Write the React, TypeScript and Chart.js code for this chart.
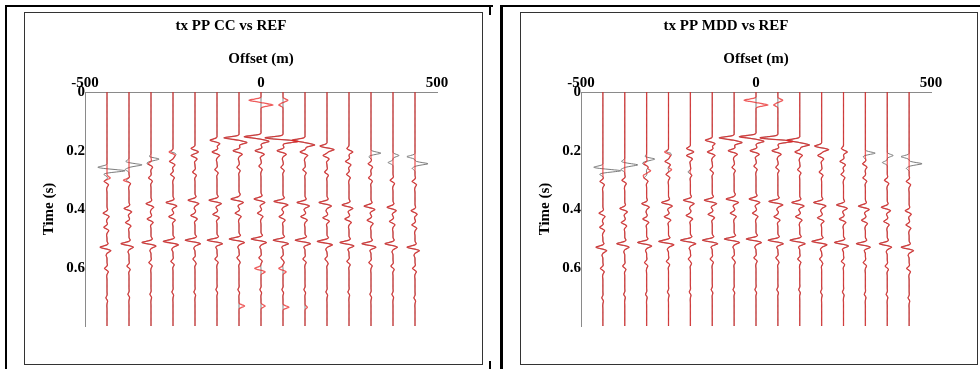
import React, { useEffect, useRef } from "react";
import { Chart, registerables } from "chart.js";
Chart.register(...registerables);

// trace offsets (m)
const OFFSETS = [-437.5, -375, -312.5, -250, -187.5, -125, -62.5, 0, 62.5, 125, 187.5, 250, 312.5, 375, 437.5];
const X_TICKS = [-500, 0, 500];
const Y_TICKS = [0, 0.2, 0.4, 0.6];
const TIME_MAX = 0.796;
const DT = 0.004;

// direct arrival: time of the left swing (s), left swing (m), right swing (m)
const DIRECT_T = [0, 0, 0, 0.203, 0.19, 0.163, 0.157, 0.152, 0.155, 0.165, 0.183, 0.19, 0, 0, 0];
const DIRECT_L = [0, 0, 0, 11, 11, 20, 43, 48, 51, 37, 20, 6, 0, 0, 0];
const DIRECT_R = [0, 0, 0, 6, 8, 8, 23, 23, 43, 28, 20, 11, 0, 0, 0];
// secondary early event
const D2_T = [0, 0, 0.245, 0.235, 0.215, 0.205, 0.2, 0.198, 0.2, 0.205, 0.215, 0.235, 0.245, 0, 0];
const D2_A = [0, 0, 8, 10, 11, 14, 17, 17, 17, 14, 11, 10, 8, 0, 0];
// weak event ~0.25-0.3 s
const MID_T = [0.305, 0.3, 0.29, 0.28, 0.27, 0.262, 0.255, 0.252, 0.255, 0.262, 0.27, 0.28, 0.29, 0.3, 0.305];
const MID_A = [8, 8, 7, 7, 7, 6, 6, 6, 6, 6, 7, 7, 7, 8, 8];
// first reflection
const R1_T = [0.412, 0.394, 0.381, 0.374, 0.369, 0.366, 0.362, 0.363, 0.372, 0.374, 0.377, 0.382, 0.386, 0.39, 0.402];
const R1_A = [11, 14, 14, 20, 20, 23, 23, 20, 26, 23, 23, 20, 20, 17, 11];
// its follow-up wiggle
const R1B_T = [0.46, 0.443, 0.43, 0.423, 0.418, 0.415, 0.412, 0.413, 0.422, 0.424, 0.427, 0.432, 0.436, 0.44, 0.452];
const R1B_A = [9, 10, 11, 12, 12, 12, 11, 10, 11, 12, 12, 12, 11, 10, 9];
// second reflection
const R2_T = [0.528, 0.517, 0.513, 0.508, 0.504, 0.502, 0.501, 0.5, 0.503, 0.503, 0.508, 0.511, 0.514, 0.517, 0.528];
const R2_A = [20, 23, 26, 28, 28, 28, 28, 28, 28, 28, 28, 26, 26, 23, 23];
// weak late events
const LATE_T = [0.6, 0.59, 0.58, 0.575, 0.57, 0.568, 0.566, 0.565, 0.566, 0.568, 0.57, 0.575, 0.58, 0.59, 0.6];
const LATE_A = [7, 6, 6, 6, 6, 6, 6, 6, 6, 6, 6, 6, 6, 6, 7];
const TAIL_T = [0.7, 0.69, 0.69, 0.68, 0.68, 0.67, 0.67, 0.67, 0.67, 0.67, 0.68, 0.68, 0.69, 0.69, 0.7];
const TAIL_A = [3, 3, 3, 3, 3, 3, 3, 3, 3, 3, 3, 3, 3, 3, 3];

// wavelet lobes (relative time, relative swing) and lobe shape
const WAVELET_DT = [-0.012, 0, 0.012, 0.026];
const WAVELET_REL = [0.15, -1, 0.55, -0.12];
const PULSE = [0.1, 0.55, 1, 0.55, 0.1];

// REF-only lobes: [trace, time, swing (m)]
const REF_LOBES = [
  [0, 0.256, -26], [0, 0.268, 51], [0, 0.281, -9],
  [1, 0.238, -9], [1, 0.249, 37], [1, 0.262, -11],
  [2, 0.218, -6], [2, 0.228, 23], [2, 0.24, -6],
  [3, 0.209, 11],
  [12, 0.209, 28], [12, 0.221, -6],
  [13, 0.215, 17], [13, 0.24, -14],
  [14, 0.22, -23], [14, 0.244, 37], [14, 0.258, -8],
];
// CC-only lobes
const CC_LOBES = [
  [7, 0.027, -34], [7, 0.044, 34], [8, 0.028, 14], [8, 0.042, -12],
  [6, 0.728, 16],
  [7, 0.598, -18], [7, 0.612, 12], [7, 0.728, 12],
  [8, 0.6, -12], [8, 0.613, 9], [8, 0.73, 17],
  [9, 0.732, 7],
  [0, 0.29, 8], [1, 0.3, -8],
];
// MDD-only lobes
const MDD_LOBES = [
  [7, 0.027, -34], [7, 0.044, 34], [8, 0.028, 14], [8, 0.042, -12],
  [2, 0.268, 12], [2, 0.284, -9], [3, 0.262, 9], [4, 0.27, 6],
];

const REF_COLOR = "rgba(110,110,110,0.9)";
const EST_COLOR = "rgba(232,30,30,0.72)";
const FONT = { family: "'Liberation Serif', 'Times New Roman', serif", size: 15, weight: "bold" as const };

function commonLobes(k: number): number[][] {
  const out: number[][] = [];
  if (DIRECT_L[k]) {
    out.push([DIRECT_T[k], -DIRECT_L[k]]);
    out.push([DIRECT_T[k] + 0.014, DIRECT_R[k]]);
  }
  const addWave = (t: number, a: number) => {
    if (!a) return;
    for (let j = 0; j < WAVELET_DT.length; j++) out.push([t + WAVELET_DT[j], a * WAVELET_REL[j]]);
  };
  addWave(D2_T[k], D2_A[k]);
  addWave(MID_T[k], MID_A[k]);
  addWave(R1_T[k], R1_A[k]);
  addWave(R1B_T[k], R1B_A[k]);
  addWave(R2_T[k], R2_A[k]);
  addWave(LATE_T[k], LATE_A[k]);
  addWave(TAIL_T[k], TAIL_A[k]);
  return out;
}

function traceLobes(list: number[][], k: number): number[][] {
  return list.filter((l) => l[0] === k).map((l) => [l[1], l[2]]);
}

function buildTrace(offset: number, lobes: number[][]) {
  const n = Math.round(TIME_MAX / DT) + 1;
  const amp = new Array(n).fill(0);
  lobes.forEach(([t, a]) => {
    const idx = Math.round(t / DT);
    for (let j = -2; j <= 2; j++) {
      const i = idx + j;
      if (i >= 0 && i < n) amp[i] += a * PULSE[j + 2];
    }
  });
  return amp.map((a, i) => ({ x: offset + a, y: i * DT }));
}

type PanelProps = {
  title: string;
  extra: number[][];
  boxLeft: number;
  canvasWidth: number;
  padRight: number;
};

function Panel({ title, extra, boxLeft, canvasWidth, padRight }: PanelProps) {
  const ref = useRef<HTMLCanvasElement>(null);
  useEffect(() => {
    const datasets: any[] = [];
    OFFSETS.forEach((off, k) => {
      const common = commonLobes(k);
      datasets.push({
        data: buildTrace(off, common.concat(traceLobes(extra, k))),
        borderColor: EST_COLOR,
        borderWidth: 1.3,
        showLine: true,
        pointRadius: 0,
        tension: 0.35,
        order: 0,
      });
      datasets.push({
        data: buildTrace(off, common.concat(traceLobes(REF_LOBES, k))),
        borderColor: REF_COLOR,
        borderWidth: 1,
        showLine: true,
        pointRadius: 0,
        tension: 0.35,
        order: 1,
      });
    });
    const chart = new Chart(ref.current as HTMLCanvasElement, {
      type: "scatter",
      data: { datasets },
      options: {
        animation: false,
        responsive: false,
        events: [],
        layout: { padding: { left: 0, right: padRight, top: 0, bottom: 38 } },
        plugins: {
          legend: { display: false },
          tooltip: { enabled: false },
          title: {
            display: true,
            text: title,
            color: "#000",
            font: FONT,
            padding: { top: 4, bottom: 0 },
          },
        },
        scales: {
          x: {
            type: "linear",
            position: "top",
            min: -500,
            max: 500,
            afterBuildTicks: (s: any) => {
              s.ticks = X_TICKS.map((v) => ({ value: v }));
            },
            afterFit: (s: any) => {
              s.height = 57;
            },
            ticks: { padding: 0, color: "#000", font: FONT, maxRotation: 0, autoSkip: false },
            grid: { display: false, drawTicks: false, tickLength: 0 },
            border: { display: true, color: "#8a8a8a", width: 1 },
            title: {
              display: true,
              text: "Offset (m)",
              color: "#000",
              font: FONT,
              padding: { top: 15, bottom: 0 },
            },
          },
          y: {
            type: "linear",
            reverse: true,
            min: 0,
            max: TIME_MAX,
            afterBuildTicks: (s: any) => {
              s.ticks = Y_TICKS.map((v) => ({ value: v }));
            },
            afterFit: (s: any) => {
              s.width = 60;
            },
            ticks: {
              padding: 0,
              color: "#000",
              font: FONT,
              callback: (v: any) => (Number(v) === 0 ? "0" : Number(v).toFixed(1)),
            },
            grid: { display: false, drawTicks: false, tickLength: 0 },
            border: { display: true, color: "#8a8a8a", width: 1 },
            title: {
              display: true,
              text: "Time (s)",
              color: "#000",
              font: FONT,
              padding: { top: 15, bottom: 0 },
            },
          },
        },
      } as any,
    });
    return () => chart.destroy();
  }, []);
  return (
    <div
      style={{
        position: "absolute",
        left: boxLeft,
        top: 12,
        width: canvasWidth + 2,
        height: 353,
        border: "1px solid #333",
        boxSizing: "border-box",
        background: "#fff",
      }}
    >
      <canvas ref={ref} width={canvasWidth} height={351} style={{ display: "block" }} />
    </div>
  );
}

export default function App() {
  return (
    <div style={{ position: "absolute", left: 0, top: 0, width: 980, height: 369, background: "#fff", overflow: "hidden" }}>
      {/* left outer frame */}
      <div style={{ position: "absolute", left: 5, top: 5, width: 486, height: 380, borderLeft: "2px solid #000", borderTop: "2px solid #000" }} />
      <div style={{ position: "absolute", left: 489, top: 5, width: 2, height: 10, background: "#000" }} />
      <div style={{ position: "absolute", left: 489, top: 361, width: 2, height: 8, background: "#000" }} />
      {/* right outer frame */}
      <div style={{ position: "absolute", left: 500, top: 5, width: 490, height: 362, borderLeft: "3px solid #000", borderTop: "2px solid #000" }} />
      <Panel title="tx PP CC vs REF" extra={CC_LOBES} boxLeft={24} canvasWidth={457} padRight={45} />
      <Panel title="tx PP MDD vs REF" extra={MDD_LOBES} boxLeft={520} canvasWidth={456} padRight={46} />
    </div>
  );
}
